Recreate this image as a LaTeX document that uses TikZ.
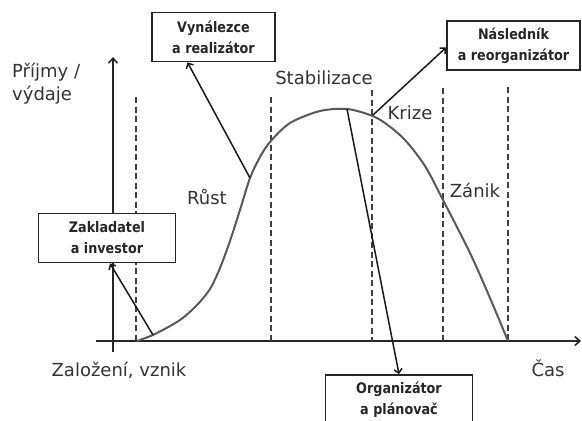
\documentclass[tikz,border=0pt]{standalone}
\usepackage{fontspec}
\setmainfont{DejaVu Sans}
\newfontfamily\rolefont[FakeStretch=0.88]{DejaVu Sans}
\usetikzlibrary{arrows.meta}
\begin{document}
\begin{tikzpicture}[x=1pt,y=-1pt,
  axis/.style={line width=1.6pt, draw=black!85, -{Straight Barb[length=5pt,width=9pt]}},
  phase/.style={line width=1.3pt, draw=black!75, dash pattern=on 6pt off 3.5pt},
  lifecurve/.style={line width=2pt, draw=black!65},
  pointer/.style={line width=1.5pt, draw=black!90, -{Straight Barb[length=4pt,width=8pt]}},
  rolebox/.style={draw=black!85, line width=1.8pt, fill=white, align=center,
    inner sep=0pt, font=\rolefont\bfseries\fontsize{14.5}{21}\selectfont, text=black!85},
  stagetext/.style={font=\fontsize{18}{23}\selectfont, text=black!80, inner sep=0pt, align=left}
]
\useasboundingbox[fill=white] (0,0) rectangle (582,421);

% axes
\draw[axis] (113,352) -- (113,57);
\draw[axis] (96,341) -- (581,341);

% phase boundaries
\foreach \px/\top in {136/97, 271/97, 372/90, 443/88, 508/87}
  \draw[phase] (\px,\top) -- (\px,341);

% life cycle curve
\draw[lifecurve] plot[smooth, tension=0.5] coordinates {
  (137,341) (155,334) (180,320) (197,305) (210,289) (220,268) (230,241)
  (240,210) (250,178) (260,157) (270,142) (290,123) (320,111) (347,109)
  (370,115) (385,123) (405,140) (425,166) (443,200) (470,253) (490,298) (508,341)};

% points on the curve where the roles start
\coordinate (pStart) at (153,335);
\coordinate (pGrow) at (250,178);
\coordinate (pTop) at (347,109);
\coordinate (pCrisis) at (373,115);

% stage labels
\node[stagetext, anchor=west] (yl) at (12,83.5) {Příjmy /\\výdaje};
\node[stagetext] (stab) at (324,78) {Stabilizace};
\node[stagetext] (kriz) at (410,113) {Krize};
\node[stagetext] (zan) at (475,190) {Zánik};
\node[stagetext] (rust) at (207,197) {Růst};
\node[stagetext] (zal) at (119,370) {Založení, vznik};
\node[stagetext] (cas) at (548,368) {Čas};

% roles
\node[rolebox, minimum width=137pt, minimum height=49pt] (zak) at (107,238) {Zakladatel\\a investor};
\node[rolebox, minimum width=123pt, minimum height=49pt] (vyn) at (213.5,37) {Vynálezce\\a realizátor};
\node[rolebox, minimum width=133pt, minimum height=49pt] (nas) at (513.5,45.5) {Následník\\a reorganizátor};
\node[rolebox, minimum width=147pt, minimum height=50pt] (org) at (399,400) {Organizátor\\a plánovač};

% connectors
\draw[pointer] (pStart) -- ([xshift=3pt]zak.south);
\draw[pointer] (pGrow) -- ([xshift=-26pt]vyn.south);
\draw[pointer] (pCrisis) -- ([yshift=-2pt]nas.west);
\draw[pointer] (pTop) -- (org.north);
\end{tikzpicture}
\end{document}
